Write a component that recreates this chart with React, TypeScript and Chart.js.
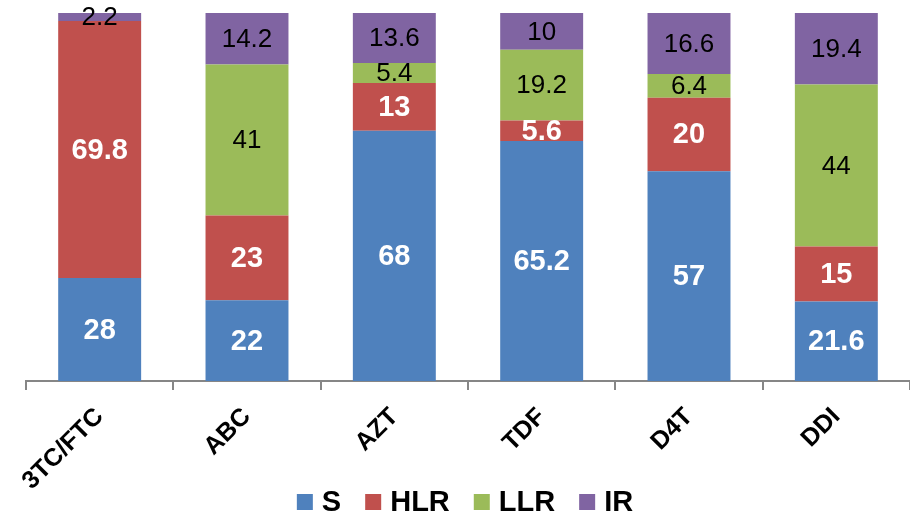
import React, { useEffect, useRef } from "react";
import { Chart, registerables } from "chart.js";

Chart.register(...registerables);

const categories = ["3TC/FTC", "ABC", "AZT", "TDF", "D4T", "DDI"];
const seriesNames = ["S", "HLR", "LLR", "IR"];
const sValues = [28, 22, 68, 65.2, 57, 21.6];
const hlrValues = [69.8, 23, 13, 5.6, 20, 15];
const llrValues = [0, 41, 5.4, 19.2, 6.4, 44];
const irValues = [2.2, 14.2, 13.6, 10, 16.6, 19.4];

const seriesColors = ["#4F81BD", "#C0504D", "#9BBB59", "#8064A2"];
const FONT = "'Liberation Sans', Arial, sans-serif";

// Writes each segment's value in the middle of its bar piece.
const segmentLabels = {
  id: "segmentLabels",
  afterDatasetsDraw(chart: any) {
    const ctx = chart.ctx;
    ctx.save();
    ctx.textAlign = "center";
    ctx.textBaseline = "middle";
    chart.data.datasets.forEach((ds: any, di: number) => {
      const meta = chart.getDatasetMeta(di);
      const light = di < 2;
      ctx.font = light ? `bold 29px ${FONT}` : `26px ${FONT}`;
      ctx.fillStyle = light ? "#FFFFFF" : "#000000";
      meta.data.forEach((el: any, i: number) => {
        const v = ds.data[i];
        if (!v) return;
        const p = el.getProps(["x", "y", "base"], true);
        ctx.fillText(String(v), p.x, (p.y + p.base) / 2 + 1);
      });
    });
    ctx.restore();
  },
};

// Compact legend row under the axis labels: square swatch, then bold name.
const bottomLegend = {
  id: "bottomLegend",
  afterDraw(chart: any) {
    const ctx = chart.ctx;
    const box = 16;
    const gapText = 9;
    const gapItem = 24;
    ctx.save();
    ctx.font = `bold 29px ${FONT}`;
    ctx.textBaseline = "middle";
    ctx.textAlign = "left";
    const items = chart.data.datasets.map((ds: any) => ({
      text: ds.label,
      color: ds.backgroundColor,
      w: ctx.measureText(ds.label).width,
    }));
    const total =
      items.reduce((s: number, it: any) => s + box + gapText + it.w, 0) +
      gapItem * (items.length - 1);
    const area = chart.chartArea;
    let x = (area.left + area.right) / 2 - 3 - total / 2;
    const cy = 502;
    items.forEach((it: any) => {
      ctx.fillStyle = it.color;
      ctx.fillRect(x, cy - box / 2, box, box);
      x += box + gapText;
      ctx.fillStyle = "#000000";
      ctx.fillText(it.text, x, cy + 1);
      x += it.w + gapItem;
    });
    ctx.restore();
  },
};

export default function App() {
  const ref = useRef<HTMLCanvasElement>(null);

  useEffect(() => {
    if (!ref.current) return;
    const values = [sValues, hlrValues, llrValues, irValues];
    const chart = new Chart(ref.current, {
      type: "bar",
      data: {
        labels: categories,
        datasets: seriesNames.map((name, i) => ({
          label: name,
          data: values[i],
          backgroundColor: seriesColors[i],
          borderWidth: 0,
          categoryPercentage: 1,
          barPercentage: 0.563,
        })),
      },
      options: {
        animation: false,
        responsive: false,
        layout: { padding: { left: 26, top: 13, right: 0, bottom: 10 } },
        scales: {
          x: {
            stacked: true,
            grid: {
              display: true,
              drawOnChartArea: false,
              drawTicks: true,
              tickLength: 9,
              color: "#868686",
              lineWidth: 2,
              offset: true,
            },
            border: { display: true, color: "#868686", width: 2 },
            ticks: {
              minRotation: 45,
              maxRotation: 45,
              padding: 12,
              color: "#000000",
              font: { family: FONT, size: 25, weight: "bold" },
            },
          },
          y: {
            stacked: true,
            display: false,
            min: 0,
            max: 100,
          },
        },
        plugins: {
          legend: { display: false },
          tooltip: { enabled: false },
        },
      },
      plugins: [segmentLabels, bottomLegend],
    });
    return () => chart.destroy();
  }, []);

  return (
    <div style={{ position: "absolute", left: 0, top: 0, width: 910, height: 518 }}>
      <canvas ref={ref} width={910} height={518} />
    </div>
  );
}
